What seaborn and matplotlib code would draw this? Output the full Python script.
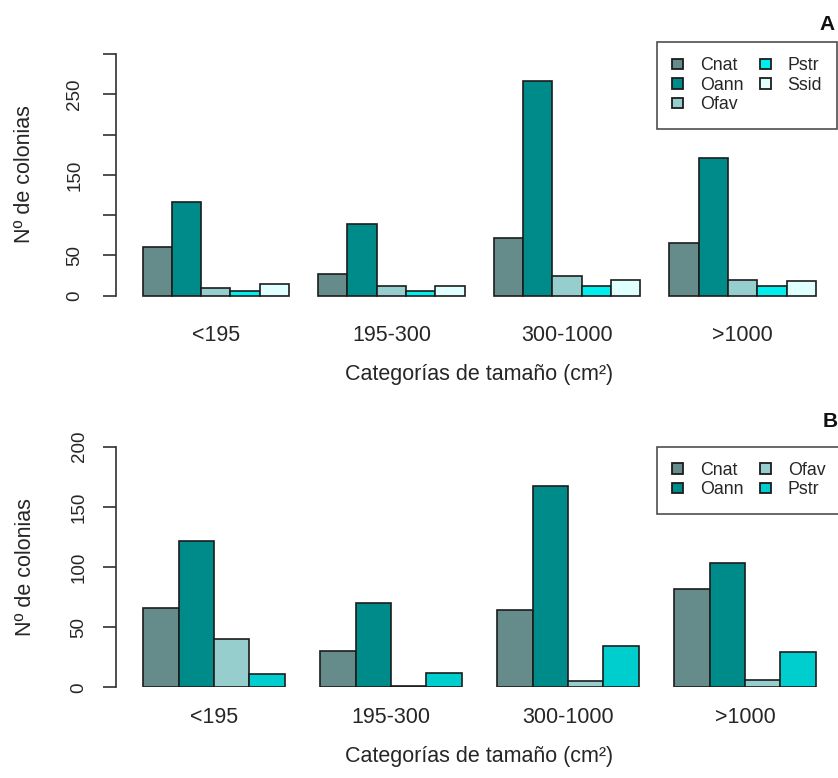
import matplotlib
matplotlib.use("Agg")
import matplotlib.pyplot as plt
from matplotlib.patches import Patch
import numpy as np
import pandas as pd
import seaborn as sns

# Size categories (cm2)
categories = ["<195", "195-300", "300-1000", ">1000"]

# Panel A: number of colonies per species
species_a = ["Cnat", "Oann", "Ofav", "Pstr", "Ssid"]
cnat_a = [60, 27, 72, 66]
oann_a = [116, 89, 267, 171]
ofav_a = [9, 12, 24, 20]
pstr_a = [6, 6, 12, 12]
ssid_a = [14, 12, 20, 18]

# Panel B: number of colonies per species
species_b = ["Cnat", "Oann", "Ofav", "Pstr"]
cnat_b = [66, 30, 64, 82]
oann_b = [122, 70, 167, 103]
ofav_b = [40, 1, 5, 6]
pstr_b = [11, 12, 34, 29]

colors_a = {"Cnat": "#668B8B", "Oann": "#008B8B", "Ofav": "#96CDCD",
            "Pstr": "#00EEEE", "Ssid": "#E0FFFF"}
colors_b = {"Cnat": "#668B8B", "Oann": "#008B8B", "Ofav": "#96CDCD",
            "Pstr": "#00CDCD"}

ticks_a = [0, 50, 100, 150, 200, 250, 300]
ticklabels_a = ["0", "50", "", "150", "", "250", ""]
ticks_b = [0, 50, 100, 150, 200]
ticklabels_b = ["0", "50", "100", "150", "200"]


def long_table(species, series):
    rows = []
    for sp, vals in zip(species, series):
        for cat, v in zip(categories, vals):
            rows.append({"cat": cat, "species": sp, "n": v})
    return pd.DataFrame(rows)


df_a = long_table(species_a, [cnat_a, oann_a, ofav_a, pstr_a, ssid_a])
df_b = long_table(species_b, [cnat_b, oann_b, ofav_b, pstr_b])

sns.set_style("white")
plt.rcParams["font.family"] = ["Liberation Sans", "DejaVu Sans"]

W, H = 838, 778
fig = plt.figure(figsize=(W / 100, H / 100), dpi=100)


def px_axes(left, right, top, bottom):
    return fig.add_axes([left / W, 1 - bottom / H, (right - left) / W, (bottom - top) / H])


ax_a = px_axes(115.7, 842.7, 42.0, 305.4)
ax_b = px_axes(116.3, 842.7, 446.7, 687.3)

edge = "#1c1c1c"
ink = "#262626"


def draw_panel(ax, df, species, palette, width, ylim, ticks, ticklabels,
               xlim, ypad, letter, letter_xy):
    sns.barplot(data=df, x="cat", y="n", hue="species", order=categories,
                hue_order=species, palette=palette, width=width, gap=0,
                errorbar=None, edgecolor=edge, linewidth=1.2, saturation=1,
                legend=False, ax=ax)
    ax.set_xlim(*xlim)
    ax.set_ylim(*ylim)
    for s in ("top", "right", "bottom"):
        ax.spines[s].set_visible(False)
    ax.spines["left"].set_bounds(ticks[0], ticks[-1])
    ax.spines["left"].set_color("#303030")
    ax.spines["left"].set_linewidth(1.2)
    ax.set_yticks(ticks)
    ax.set_yticklabels(ticklabels)
    ax.tick_params(axis="y", left=True, direction="out", length=9.7,
                   width=1.2, color="#303030", pad=ypad, labelsize=13.5,
                   labelrotation=90, labelcolor=ink)
    for lab in ax.get_yticklabels():
        lab.set_va("center")
    ax.tick_params(axis="x", bottom=False, length=0, pad=14, labelsize=15.5,
                   labelcolor=ink)
    ax.set_xlabel("Categorías de tamaño (cm²)", fontsize=15.5,
                  color=ink, labelpad=13)
    ax.set_ylabel("Nº de colonias", fontsize=15.5, color=ink,
                  va="center")
    ax.yaxis.set_label_coords((25 - 115.7) / 727, 0.5)

    handles = [Patch(facecolor=palette[s], edgecolor=edge, linewidth=1.3,
                     label=s) for s in species]
    leg = ax.legend(handles=handles, ncol=2, loc="upper left",
                    bbox_to_anchor=((657 - 115.7) / 727, 1.0),
                    borderaxespad=0, fontsize=12.8, frameon=True,
                    fancybox=False, edgecolor="#222222", handlelength=0.6,
                    handleheight=0.5, handletextpad=0.95,
                    columnspacing=0.95, labelspacing=0.15, borderpad=0.85)
    leg.get_frame().set_linewidth(1.2)
    for t in leg.get_texts():
        t.set_color(ink)
    ax.text(letter_xy[0], letter_xy[1], letter, transform=ax.transAxes,
            ha="right", va="baseline", fontsize=15, fontweight="bold",
            color="#111111")


draw_panel(ax_a, df_a, species_a, colors_a, 5 / 6, (-12.05, 315.2),
           ticks_a, ticklabels_a, (-0.570, 3.570), 13.5, "A",
           (0.9894, 1.0456))
draw_panel(ax_b, df_b, species_b, colors_b, 0.8, (0, 200),
           ticks_b, ticklabels_b, (-0.552, 3.552), 11.0, "B",
           (0.993, 1.0831))

fig.savefig("out.png", dpi=100)
